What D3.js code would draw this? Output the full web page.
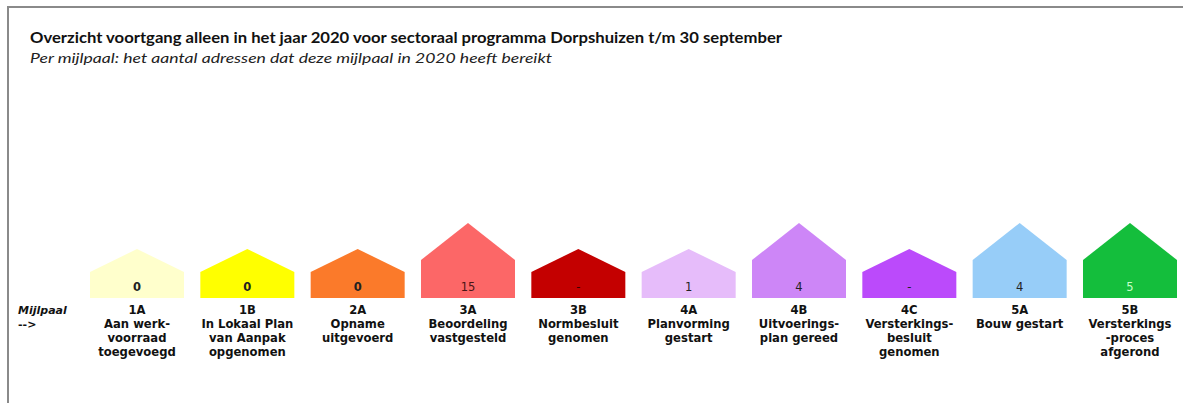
<!DOCTYPE html>
<html><head><meta charset="utf-8">
<script src="https://cdn.jsdelivr.net/npm/d3@7"></script>
<style>html,body{margin:0;padding:0;background:#fff;}svg{display:block;}</style>
</head><body>
<svg id="chart" width="1183" height="403"></svg>
<script>
const codes = ["1A","1B","2A","3A","3B","4A","4B","4C","5A","5B"];
const names = [
  ["Aan werk-","voorraad","toegevoegd"],
  ["In Lokaal Plan","van Aanpak","opgenomen"],
  ["Opname","uitgevoerd"],
  ["Beoordeling","vastgesteld"],
  ["Normbesluit","genomen"],
  ["Planvorming","gestart"],
  ["Uitvoerings-","plan gereed"],
  ["Versterkings-","besluit","genomen"],
  ["Bouw gestart"],
  ["Versterkings","-proces","afgerond"]
];
const values = [0, 0, 0, 15, null, 1, 4, null, 4, 5];
const colors = ["#ffffcc","#ffff00","#fb7a2a","#fc6767","#c40000","#e6bcfa","#cd86f7","#bb4afb","#97cdf8","#14be3c"];
const valueColors = ["#222","#222","#222","#4a1515","#3a0000","#222","#222","#222","#222","#c8ffc8"];
const title = "Overzicht voortgang alleen in het jaar 2020 voor sectoraal programma Dorpshuizen t/m 30 september";
const subtitle = "Per mijlpaal: het aantal adressen dat deze mijlpaal in 2020 heeft bereikt";

const svg = d3.select("#chart");
// frame
svg.append("path").attr("d","M8,403 V7 H1183").attr("fill","none").attr("stroke","#8a8a8a").attr("stroke-width",2);

svg.append("text").attr("x",30).attr("y",43).attr("font-family","Lato, 'Open Sans', sans-serif")
  .attr("font-weight","bold").attr("font-size",15.5).attr("fill","#111")
  .attr("textLength",752).attr("lengthAdjust","spacingAndGlyphs").text(title);
svg.append("text").attr("x",30).attr("y",63).attr("font-family","Lato, 'Open Sans', sans-serif")
  .attr("font-style","italic").attr("font-size",14).attr("fill","#222")
  .attr("textLength",522).attr("lengthAdjust","spacingAndGlyphs").text(subtitle);

const data = codes.map((c,i)=>({code:c, name:names[i], value:values[i], color:colors[i], vcolor:valueColors[i]}));

const x = d3.scaleBand().domain(codes).range([90,1177]).paddingInner(0.148).paddingOuter(0);
const bottomY = 298;
const peakY = d3.scaleThreshold().domain([2]).range([249, 223]);
const eaveY = d3.scaleThreshold().domain([2]).range([272, 260]);
const lvl = v => v == null ? 0 : v;

const g = svg.append("g").selectAll("g").data(data).join("g");
g.append("path")
  .attr("d", d => {
    const x0 = x(d.code), x1 = x0 + x.bandwidth(), xm = x0 + x.bandwidth()/2;
    const p = peakY(lvl(d.value)), e = eaveY(lvl(d.value));
    return `M${x0},${bottomY} V${e} L${xm},${p} L${x1},${e} V${bottomY} Z`;
  })
  .attr("fill", d => d.color);

g.append("text")
  .attr("x", d => x(d.code) + x.bandwidth()/2)
  .attr("y", 291)
  .attr("text-anchor","middle")
  .attr("font-family","'DejaVu Sans', Verdana, sans-serif")
  .attr("font-size",11.5)
  .attr("font-weight", d => d.value === 0 ? "bold" : "normal")
  .attr("fill", d => d.vcolor)
  .text(d => d.value == null ? "-" : d.value);

const lab = g.append("text")
  .attr("text-anchor","middle")
  .attr("font-family","'DejaVu Sans', Verdana, sans-serif")
  .attr("font-weight","bold")
  .attr("font-size",11.6)
  .attr("fill","#111");
lab.selectAll("tspan").data(d => [d.code].concat(d.name).map(t => ({t, cx: x(d.code)+x.bandwidth()/2})))
  .join("tspan")
  .attr("x", d => d.cx)
  .attr("y", (d,i) => 314 + i*14)
  .text(d => d.t);

svg.append("text").attr("x",18).attr("y",314)
  .attr("font-family","'DejaVu Sans', Verdana, sans-serif").attr("font-weight","bold").attr("font-style","italic")
  .attr("font-size",11).attr("fill","#111").text("Mijlpaal");
svg.append("text").attr("x",18).attr("y",328)
  .attr("font-family","'DejaVu Sans', Verdana, sans-serif").attr("font-weight","bold")
  .attr("font-size",11).attr("fill","#111").text("-->");
</script>
</body></html>
